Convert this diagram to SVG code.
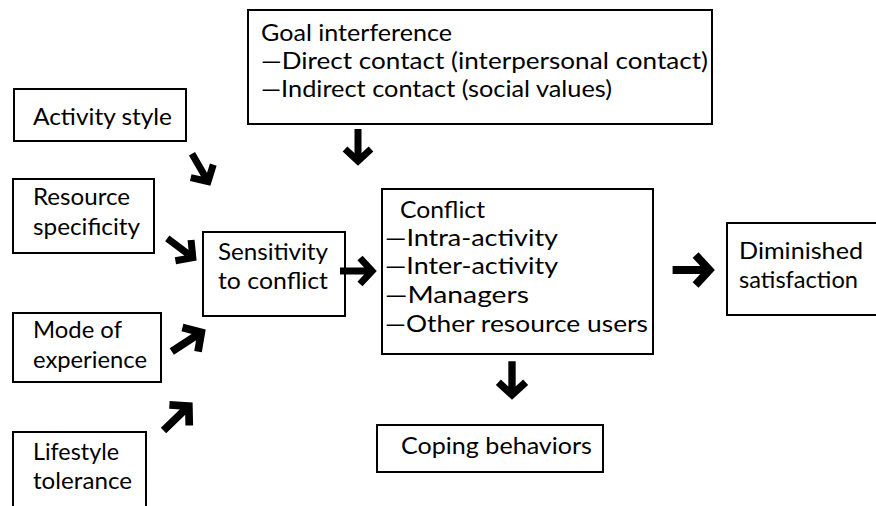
<svg xmlns="http://www.w3.org/2000/svg" width="876" height="506" viewBox="0 0 876 506">
<style>
.box{fill:#fff;stroke:#000;stroke-width:2}
text{font-family:Lato,"Open Sans","DejaVu Sans",sans-serif;font-size:24px;fill:#000}
.arr{fill:none;stroke:#000;stroke-width:7;stroke-linejoin:miter;stroke-linecap:butt}
</style>
<defs>
<g id="arrow">
<path class="arr" d="M -36 0 H -6 M -16 -13 L -4 0 L -16 13"/>
</g>
</defs>
<rect width="876" height="506" fill="#fff"/>
<g id="goal">
<rect class="box" x="248" y="10" width="464" height="114"/>
<text x="261" y="41" textLength="191" lengthAdjust="spacingAndGlyphs">Goal interference</text>
<text x="261" y="69" textLength="447" lengthAdjust="spacingAndGlyphs">—Direct contact (interpersonal contact)</text>
<text x="261" y="97" textLength="351" lengthAdjust="spacingAndGlyphs">—Indirect contact (social values)</text>
</g>
<g id="activity">
<rect class="box" x="14" y="89" width="172" height="52"/>
<text x="33" y="125" textLength="139" lengthAdjust="spacingAndGlyphs">Activity style</text>
</g>
<g id="resource">
<rect class="box" x="13" y="179" width="141" height="74"/>
<text x="33" y="205" textLength="97" lengthAdjust="spacingAndGlyphs">Resource</text>
<text x="33" y="235" textLength="107" lengthAdjust="spacingAndGlyphs">specificity</text>
</g>
<g id="sensitivity">
<rect class="box" x="203" y="232" width="142" height="84"/>
<text x="218" y="260" textLength="110" lengthAdjust="spacingAndGlyphs">Sensitivity</text>
<text x="218" y="289" textLength="110" lengthAdjust="spacingAndGlyphs">to conflict</text>
</g>
<g id="mode">
<rect class="box" x="13" y="313" width="148" height="69"/>
<text x="33" y="338" textLength="89" lengthAdjust="spacingAndGlyphs">Mode of</text>
<text x="33" y="368" textLength="114" lengthAdjust="spacingAndGlyphs">experience</text>
</g>
<g id="lifestyle">
<rect class="box" x="13" y="432" width="133" height="90"/>
<text x="33" y="460" textLength="86" lengthAdjust="spacingAndGlyphs">Lifestyle</text>
<text x="33" y="489" textLength="99" lengthAdjust="spacingAndGlyphs">tolerance</text>
</g>
<g id="conflict">
<rect class="box" x="382" y="189" width="271" height="165"/>
<text x="400" y="218" textLength="85" lengthAdjust="spacingAndGlyphs">Conflict</text>
<text x="385" y="246" textLength="173" lengthAdjust="spacingAndGlyphs">—Intra-activity</text>
<text x="385" y="274" textLength="173" lengthAdjust="spacingAndGlyphs">—Inter-activity</text>
<text x="385" y="303" textLength="144" lengthAdjust="spacingAndGlyphs">—Managers</text>
<text x="385" y="332" textLength="263" lengthAdjust="spacingAndGlyphs">—Other resource users</text>
</g>
<g id="diminished">
<rect class="box" x="727" y="223" width="160" height="92"/>
<text x="739" y="259" textLength="124" lengthAdjust="spacingAndGlyphs">Diminished</text>
<text x="739" y="288" textLength="119" lengthAdjust="spacingAndGlyphs">satisfaction</text>
</g>
<g id="coping">
<rect class="box" x="377" y="425" width="226" height="47"/>
<text x="401" y="454" textLength="191" lengthAdjust="spacingAndGlyphs">Coping behaviors</text>
</g>
<g id="connectors">
<use href="#arrow" transform="translate(358,165) rotate(90)"/>
<use href="#arrow" transform="translate(512,399) rotate(90) scale(1.05)"/>
<use href="#arrow" transform="translate(376,271)"/>
<use href="#arrow" transform="translate(714,270) scale(1.15)"/>
<use href="#arrow" transform="translate(210,185) rotate(60)"/>
<use href="#arrow" transform="translate(196,260) rotate(37)"/>
<use href="#arrow" transform="translate(205,330) rotate(-33) scale(1.1)"/>
<use href="#arrow" transform="translate(192,403) rotate(-44) scale(1.1)"/>
</g>
</svg>
